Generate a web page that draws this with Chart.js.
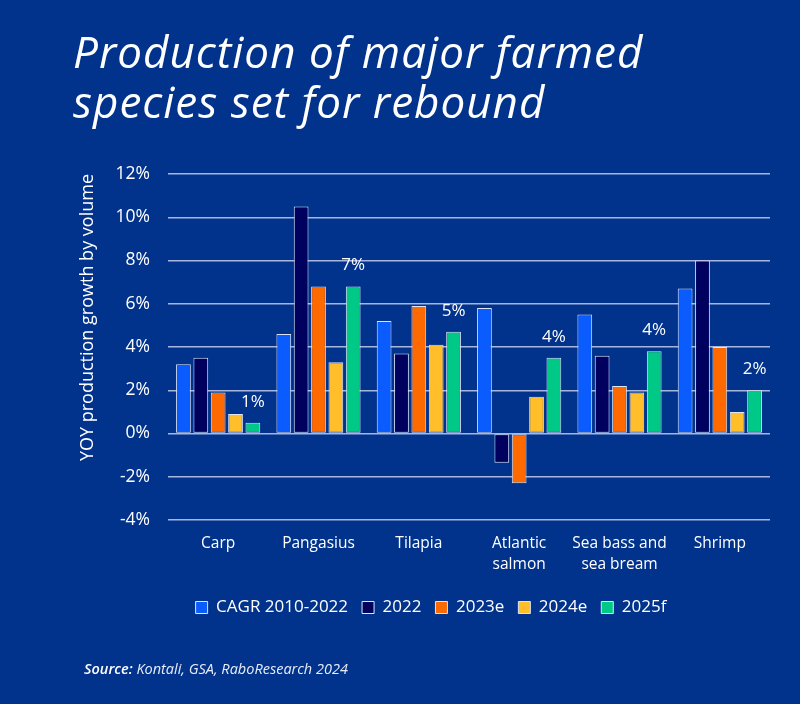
<!DOCTYPE html>
<html>
<head>
<meta charset="utf-8">
<script src="https://cdn.jsdelivr.net/npm/chart.js@4"></script>
<style>
  html, body { margin: 0; padding: 0; background: #01338c; }
  body { width: 800px; height: 704px; position: relative; overflow: hidden; font-family: "Open Sans", sans-serif; }
  #title { position: absolute; left: 73px; top: 26px; color: #fff; font-style: italic; font-weight: 400; font-size: 44px; line-height: 50px; letter-spacing: 1px; white-space: nowrap; }
  #source { position: absolute; left: 84px; top: 659px; color: #e8ecf6; font-style: italic; font-size: 14.5px; line-height: 20px; white-space: nowrap; }
  #source b { font-weight: 600; color: #fff; }
  #wrap { position: absolute; left: 0; top: 0; width: 800px; height: 704px; }
</style>
</head>
<body>
<div id="wrap"><canvas id="c" width="800" height="704"></canvas></div>
<div id="title">Production of major farmed<br>species set for rebound</div>
<div id="source"><b>Source:</b> Kontali, GSA, RaboResearch 2024</div>
<script>
const categories = ['Carp', 'Pangasius', 'Tilapia', ['Atlantic', 'salmon'], ['Sea bass and', 'sea bream'], 'Shrimp'];
const seriesNames = ['CAGR 2010-2022', '2022', '2023e', '2024e', '2025f'];
const cagr   = [3.2, 4.6, 5.2, 5.8, 5.5, 6.7];
const y2022  = [3.5, 10.5, 3.7, -1.35, 3.6, 8.0];
const y2023e = [1.9, 6.8, 5.9, -2.3, 2.2, 4.0];
const y2024e = [0.9, 3.3, 4.1, 1.7, 1.9, 1.0];
const y2025f = [0.5, 6.8, 4.7, 3.5, 3.8, 2.0];
const topLabels = ['1%', '7%', '5%', '4%', '4%', '2%'];
const yMin = -4, yMax = 12, yStep = 2;

const colors = ['#0a5cff', '#00015e', '#ff6a00', '#ffbe2a', '#00c887'];
const seriesValues = [cagr, y2022, y2023e, y2024e, y2025f];

const FONT = '"Open Sans", sans-serif';

const labelPlugin = {
  id: 'topLabels',
  afterDatasetsDraw(chart) {
    const meta = chart.getDatasetMeta(4);
    const ctx = chart.ctx;
    ctx.save();
    ctx.fillStyle = '#ffffff';
    ctx.font = '17px ' + FONT;
    ctx.textAlign = 'center';
    ctx.textBaseline = 'middle';
    meta.data.forEach((bar, i) => {
      ctx.fillText(topLabels[i], bar.x, bar.y - 21);
    });
    ctx.restore();
  }
};

const legendShift = {
  id: 'legendShift',
  afterLayout(chart) {
    const lg = chart.legend;
    if (lg) { lg.left += 15; lg.right += 15; }
  }
};

new Chart(document.getElementById('c'), {
  type: 'bar',
  data: {
    labels: categories,
    datasets: seriesValues.map((vals, i) => ({
      label: seriesNames[i],
      data: vals,
      backgroundColor: colors[i],
      borderColor: '#dde5f5',
      borderWidth: 1,
      borderSkipped: false,
      categoryPercentage: 0.865,
      barPercentage: 0.85
    }))
  },
  options: {
    responsive: false,
    animation: false,
    devicePixelRatio: 1,
    layout: { padding: { top: 174, left: 62, right: 30, bottom: 78 } },
    plugins: {
      tooltip: { enabled: false },
      legend: {
        position: 'bottom',
        labels: {
          color: '#ffffff',
          font: { family: FONT, size: 17 },
          boxWidth: 12,
          boxHeight: 12,
          padding: 14
        }
      }
    },
    scales: {
      x: {
        grid: { display: false, drawTicks: false },
        border: { display: false },
        ticks: {
          color: '#ffffff',
          font: { family: FONT, size: 15.5, lineHeight: 1.3 },
          padding: 14,
          maxRotation: 0,
          autoSkip: false
        },
        afterFit(s) { s.height = 65; }
      },
      y: {
        min: yMin,
        max: yMax,
        grid: { color: '#a7b6df', lineWidth: 1.5, drawTicks: false },
        border: { display: false },
        ticks: {
          stepSize: yStep,
          color: '#ffffff',
          font: { family: FONT, size: 17.5 },
          padding: 18,
          callback: v => v + '%'
        },
        title: {
          display: true,
          text: 'YOY production growth by volume',
          color: '#ffffff',
          font: { family: FONT, size: 18 },
          align: 'end',
          padding: { top: 15, bottom: 0 }
        },
        afterFit(s) { s.width = 106; }
      }
    }
  },
  plugins: [labelPlugin, legendShift]
});
</script>
</body>
</html>
